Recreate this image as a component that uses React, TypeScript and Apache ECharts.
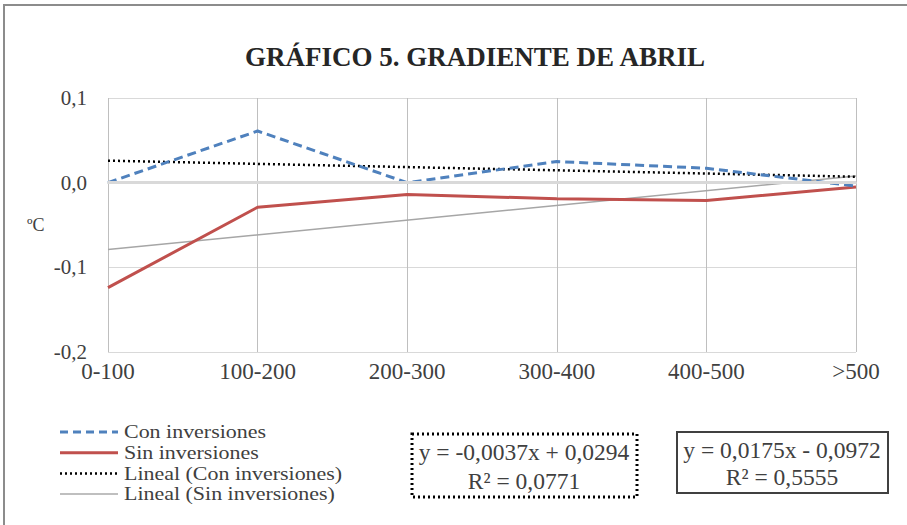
import React, { useEffect, useRef } from "react";
import * as echarts from "echarts";

const categories = ["0-100", "100-200", "200-300", "300-400", "400-500", ">500"];
const conInversiones = [0.0, 0.061, 0.0, 0.025, 0.017, -0.004];
const sinInversiones = [-0.124, -0.029, -0.014, -0.019, -0.021, -0.005];
const linealCon = [0.026, null, null, null, null, 0.007];
const linealSin = [-0.079, null, null, null, null, 0.008];
const legendNames = ["Con inversiones", "Sin inversiones", "Lineal (Con inversiones)", "Lineal (Sin inversiones)"];
const eqCon = ["y = -0,0037x + 0,0294", "R² = 0,0771"];
const eqSin = ["y = 0,0175x - 0,0972", "R² = 0,5555"];

const SERIF = "'Liberation Serif', 'Times New Roman', serif";
const TXT = "#404040";

export default function App() {
  const ref = useRef<HTMLDivElement>(null);
  useEffect(() => {
    if (!ref.current) return;
    const chart = echarts.init(ref.current, undefined, { renderer: "svg" });
    const legendStyles = [
      { stroke: "#4f81bd", lineWidth: 3, lineDash: [8, 5] },
      { stroke: "#c0504d", lineWidth: 3 },
      { stroke: "#000000", lineWidth: 2.5, lineDash: [2, 3] },
      { stroke: "#bfbfbf", lineWidth: 2 },
    ];
    const graphics: any[] = [
      { type: "rect", shape: { x: 4, y: 5, width: 1000, height: 600 }, style: { fill: "none", stroke: "#8c8c8c", lineWidth: 2 }, silent: true },
    ];
    legendNames.forEach((n, i) => {
      const y = 432 + i * 20.7;
      graphics.push({ type: "line", shape: { x1: 60, y1: y, x2: 118, y2: y }, style: legendStyles[i] });
      graphics.push({
        type: "text",
        x: 124,
        y,
        scaleX: 1.22,
        style: { text: n, font: `18px ${SERIF}`, lineHeight: 18, fill: TXT, verticalAlign: "middle", align: "left" },
      });
    });
    graphics.push({ type: "rect", shape: { x: 412, y: 434, width: 225, height: 63 }, style: { fill: "#fff", stroke: "#000", lineWidth: 3, lineDash: [2, 3] } });
    graphics.push({ type: "text", x: 524, y: 452, style: { text: eqCon[0], font: `23.5px ${SERIF}`, fill: TXT, align: "center", verticalAlign: "middle" } });
    graphics.push({ type: "text", x: 524, y: 481, style: { text: eqCon[1], font: `23.5px ${SERIF}`, fill: TXT, align: "center", verticalAlign: "middle" } });
    graphics.push({ type: "rect", shape: { x: 677, y: 432, width: 211, height: 61 }, style: { fill: "#fff", stroke: "#404040", lineWidth: 2 } });
    graphics.push({ type: "text", x: 782, y: 450, style: { text: eqSin[0], font: `23.5px ${SERIF}`, fill: TXT, align: "center", verticalAlign: "middle" } });
    graphics.push({ type: "text", x: 782, y: 477, style: { text: eqSin[1], font: `23.5px ${SERIF}`, fill: TXT, align: "center", verticalAlign: "middle" } });
    graphics.push({ type: "text", x: 27, y: 225, style: { text: "ºC", font: `18px ${SERIF}`, fill: TXT, align: "left", verticalAlign: "middle" } });

    chart.setOption({
      animation: false,
      backgroundColor: "#fff",
      title: {
        text: "GRÁFICO 5. GRADIENTE DE ABRIL",
        left: 470,
        top: 38,
        textAlign: "center",
        textStyle: { fontFamily: SERIF, fontWeight: "bold", fontSize: 27, color: "#262626" },
      },
      grid: { left: 108, right: 51, top: 98, bottom: 173 },
      xAxis: {
        type: "category",
        data: categories,
        boundaryGap: false,
        axisLine: { lineStyle: { color: "#d9d9d9", width: 2 } },
        axisTick: { show: false },
        axisLabel: { fontFamily: SERIF, fontSize: 23, color: TXT, margin: 8 },
        splitLine: { show: true, lineStyle: { color: "#bfbfbf", width: 1 } },
      },
      yAxis: {
        type: "value",
        min: -0.2,
        max: 0.1,
        interval: 0.1,
        axisLine: { show: false },
        axisTick: { show: false },
        axisLabel: {
          fontFamily: SERIF,
          fontSize: 21,
          color: TXT,
          margin: 21,
          formatter: (v: number) => v.toFixed(1).replace(".", ",").replace("-0,0", "0,0"),
        },
        splitLine: { lineStyle: { color: "#d9d9d9", width: 1 } },
      },
      graphic: graphics,
      series: [
        {
          name: "Lineal (Sin inversiones)",
          type: "line",
          data: linealSin,
          connectNulls: true,
          showSymbol: false,
          lineStyle: { color: "#a6a6a6", width: 1.5 },
          markLine: {
            silent: true,
            symbol: "none",
            label: { show: false },
            lineStyle: { color: "#d9d9d9", width: 3, type: "solid" },
            data: [{ yAxis: 0 }],
          },
          z: 1,
        },
        {
          name: "Lineal (Con inversiones)",
          type: "line",
          data: linealCon,
          connectNulls: true,
          showSymbol: false,
          lineStyle: { color: "#000", width: 2.5, type: [2, 3] },
          z: 2,
        },
        {
          name: "Sin inversiones",
          type: "line",
          data: sinInversiones,
          showSymbol: false,
          lineStyle: { color: "#c0504d", width: 3 },
          z: 3,
        },
        {
          name: "Con inversiones",
          type: "line",
          data: conInversiones,
          showSymbol: false,
          lineStyle: { color: "#4f81bd", width: 3, type: [9, 5] },
          z: 4,
        },
      ],
    });
    return () => chart.dispose();
  }, []);
  return <div ref={ref} style={{ position: "fixed", left: 0, top: 0, width: 907, height: 525 }} />;
}
